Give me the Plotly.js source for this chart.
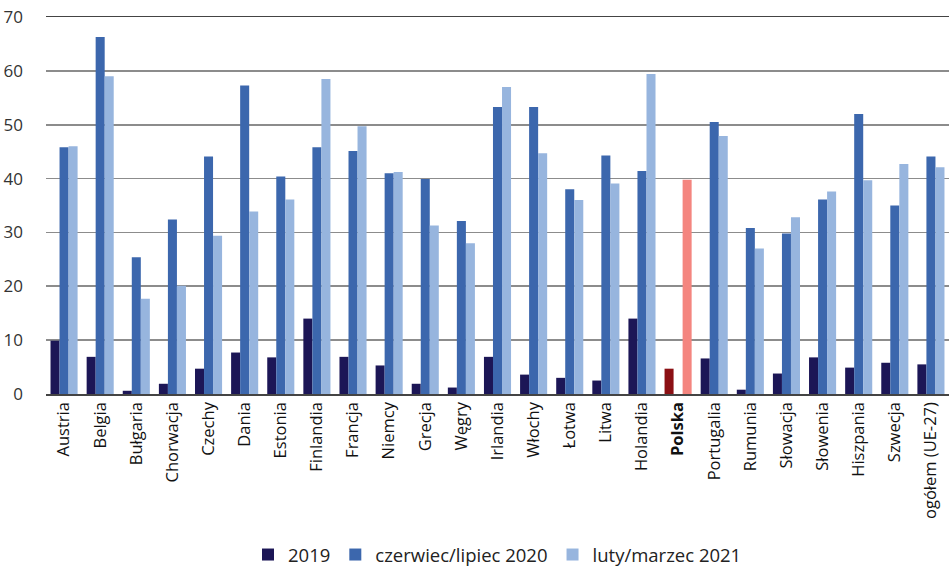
<!DOCTYPE html>
<html><head><meta charset="utf-8">
<script src="https://cdn.plot.ly/plotly-3.0.1.min.js"></script>
<style>html,body{margin:0;padding:0;background:#fff}#chart{width:949px;height:574px}</style>
</head><body><div id="chart"></div>
<script>
const categories = ["Austria","Belgia","Bułgaria","Chorwacja","Czechy","Dania","Estonia","Finlandia","Francja","Niemcy","Grecja","Węgry","Irlandia","Włochy","Łotwa","Litwa","Holandia","Polska","Portugalia","Rumunia","Słowacja","Słowenia","Hiszpania","Szwecja","ogółem (UE-27)"];
const tickLabels = categories.map(c => c === "Polska" ? "<b>Polska</b>" : c);
const seriesNames = ["2019","czerwiec/lipiec 2020","luty/marzec 2021"];
const v2019 = [9.9,6.9,0.6,1.9,4.7,7.7,6.8,14.0,6.9,5.3,1.9,1.2,6.9,3.6,3.0,2.5,14.0,4.7,6.6,0.8,3.8,6.8,4.9,5.8,5.5];
const v2020 = [45.8,66.3,25.4,32.4,44.1,57.3,40.4,45.8,45.1,41.0,39.9,32.1,53.3,53.3,38.0,44.3,41.4,null,50.5,30.8,29.8,36.1,52.0,35.0,44.1];
const v2021 = [46.0,59.0,17.7,20.1,29.4,33.9,36.1,58.5,49.7,41.2,31.3,28.0,57.0,44.7,36.0,39.1,59.4,39.8,47.9,27.0,32.8,37.6,39.7,42.7,42.1];
const yTicks = [0,10,20,30,40,50,60,70];

const colors = ["#1c1656","#3c67ad","#97b5de"];
const highlight = ["#8b1014","#3c67ad","#f4857f"];
const vals = [v2019, v2020, v2021];
const traces = vals.map((v,i) => ({
  type: "bar",
  name: seriesNames[i],
  x: categories,
  y: v,
  marker: {color: categories.map(c => c === "Polska" ? highlight[i] : colors[i])},
  hoverinfo: "x+y+name"
}));

const layout = {
  width: 949, height: 574,
  margin: {l: 46, r: 0, t: 17, b: 180},
  paper_bgcolor: "#fff", plot_bgcolor: "#fff",
  barmode: "group", bargap: 0.25, bargroupgap: 0,
  font: {family: "'Open Sans', sans-serif", color: "#222"},
  xaxis: {
    tickmode: "array", tickvals: categories, ticktext: tickLabels,
    tickangle: -90, tickfont: {size: 16.5, family: "'Open Sans', sans-serif", color: "#111"},
    showline: true, mirror: true, linecolor: "#444", linewidth: 1.5,
    ticks: "", showgrid: false
  },
  yaxis: {
    range: [0, 70], tickmode: "array", tickvals: yTicks,
    tickfont: {size: 17, family: "'Open Sans', sans-serif", color: "#333"},
    ticklabelstandoff: 22,
    showgrid: true, gridcolor: "#8c8c8c", gridwidth: 1.6,
    zeroline: false, showline: false, ticks: "", ticklen: 0
  },
  showlegend: true,
  legend: {
    orientation: "h", x: 0.5, xanchor: "center",
    yref: "container", y: -0.03, yanchor: "bottom",
    font: {size: 18.5, family: "'Open Sans', sans-serif", color: "#222"},
    tracegroupgap: 0
  }
};

Plotly.newPlot("chart", traces, layout, {displayModeBar: false, staticPlot: true});
</script>
</body></html>
